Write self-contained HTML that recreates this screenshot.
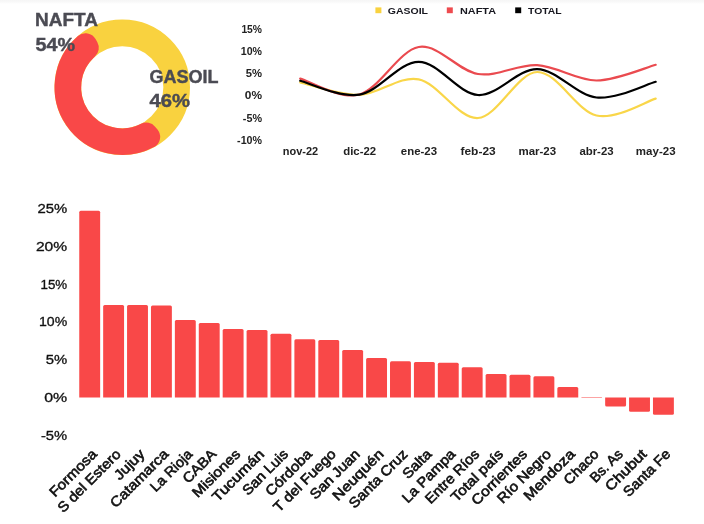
<!DOCTYPE html>
<html lang="es"><head><meta charset="utf-8"><title>Combustibles</title>
<style>
html,body{margin:0;padding:0;background:#fff;}
body{width:704px;height:524px;overflow:hidden;position:relative;font-family:"Liberation Sans",sans-serif;}
svg{position:absolute;left:0;top:0;display:block}
text{font-family:"Liberation Sans",sans-serif;}
.topbar{position:absolute;left:0;top:0;width:704px;height:4px;background:linear-gradient(#f6f6f6,#f9f9f9 50%,#ffffff);}
.dl{font-weight:bold;font-size:18px;fill:#4b4b53;stroke:#4b4b53;stroke-width:0.4px;}
.lg{font-weight:bold;font-size:9.6px;fill:#16161e;}
.ly{font-weight:bold;font-size:10.5px;fill:#222;text-anchor:end;}
.lx{font-weight:bold;font-size:11px;fill:#222;text-anchor:middle;}
.by{font-size:13.4px;fill:#111;text-anchor:end;stroke:#111;stroke-width:0.32px;}
.bx{font-size:14px;fill:#111;text-anchor:end;stroke:#111;stroke-width:0.62px;}
</style></head><body>
<div class="topbar"></div>
<svg width="704" height="524" viewBox="0 0 704 524">

<circle cx="122.25" cy="87.25" r="54.42" fill="none" stroke="#f9d23f" stroke-width="26.65"/>
<path d="M148.66 136.91 A56.25 56.25 0 0 1 85.50 44.67 L87.31 47.93 A52.60 52.60 0 0 0 146.27 134.05 Z" fill="#f94848" stroke="#f94848" stroke-width="23.0" stroke-linejoin="round"/>
<text class="dl" x="35" y="26.3" textLength="63" lengthAdjust="spacingAndGlyphs">NAFTA</text>
<text class="dl" x="35.5" y="51.3" textLength="39.5" lengthAdjust="spacingAndGlyphs">54%</text>
<text class="dl" x="149.5" y="82.8" textLength="69" lengthAdjust="spacingAndGlyphs">GASOIL</text>
<text class="dl" x="149.5" y="107.3" textLength="40.5" lengthAdjust="spacingAndGlyphs">46%</text>
<rect x="375.4" y="7.4" width="6" height="5.8" fill="#f9d23f"/>
<text class="lg" x="387.8" y="13.9" textLength="40.2" lengthAdjust="spacingAndGlyphs">GASOIL</text>
<rect x="446.8" y="7.4" width="6" height="5.8" fill="#ee4b4f"/>
<text class="lg" x="460" y="13.9" textLength="36.0" lengthAdjust="spacingAndGlyphs">NAFTA</text>
<rect x="515.2" y="7.4" width="6" height="5.8" fill="#000"/>
<text class="lg" x="528" y="13.9" textLength="33.6" lengthAdjust="spacingAndGlyphs">TOTAL</text>
<text class="ly" x="262" y="32.5" textLength="20.6" lengthAdjust="spacingAndGlyphs">15%</text>
<text class="ly" x="262" y="54.8" textLength="21.2" lengthAdjust="spacingAndGlyphs">10%</text>
<text class="ly" x="262" y="77.0" textLength="16.3" lengthAdjust="spacingAndGlyphs">5%</text>
<text class="ly" x="262" y="99.3" textLength="17.2" lengthAdjust="spacingAndGlyphs">0%</text>
<text class="ly" x="262" y="121.5" textLength="19.2" lengthAdjust="spacingAndGlyphs">-5%</text>
<text class="ly" x="262" y="143.8" textLength="24.9" lengthAdjust="spacingAndGlyphs">-10%</text>
<text class="lx" x="300.5" y="154.7" textLength="35.4" lengthAdjust="spacingAndGlyphs">nov-22</text>
<text class="lx" x="359.7" y="154.7" textLength="32.9" lengthAdjust="spacingAndGlyphs">dic-22</text>
<text class="lx" x="418.9" y="154.7" textLength="36.2" lengthAdjust="spacingAndGlyphs">ene-23</text>
<text class="lx" x="478.1" y="154.7" textLength="35.2" lengthAdjust="spacingAndGlyphs">feb-23</text>
<text class="lx" x="537.3" y="154.7" textLength="37.7" lengthAdjust="spacingAndGlyphs">mar-23</text>
<text class="lx" x="596.5" y="154.7" textLength="34.2" lengthAdjust="spacingAndGlyphs">abr-23</text>
<text class="lx" x="655.7" y="154.7" textLength="39.7" lengthAdjust="spacingAndGlyphs">may-23</text>
<path d="M300.20 82.30 C310.07 84.40 339.70 95.40 359.45 94.90 C379.20 94.40 398.95 75.45 418.70 79.30 C438.45 83.15 458.20 119.22 477.95 118.00 C497.70 116.78 517.45 72.42 537.20 72.00 C556.95 71.58 576.70 111.07 596.45 115.50 C616.20 119.93 645.83 101.42 655.70 98.60" fill="none" stroke="#f9d649" stroke-width="2.2" stroke-linecap="round" stroke-linejoin="round"/>
<path d="M300.20 78.60 C310.07 81.25 339.70 99.77 359.45 94.50 C379.20 89.23 398.95 50.42 418.70 47.00 C438.45 43.58 458.20 70.97 477.95 74.00 C497.70 77.03 517.45 64.12 537.20 65.20 C556.95 66.28 576.70 80.57 596.45 80.50 C616.20 80.43 645.83 67.42 655.70 64.80" fill="none" stroke="#ea4a4f" stroke-width="2.2" stroke-linecap="round" stroke-linejoin="round"/>
<path d="M300.20 80.80 C310.07 83.12 339.70 97.87 359.45 94.70 C379.20 91.53 398.95 61.75 418.70 61.80 C438.45 61.85 458.20 93.78 477.95 95.00 C497.70 96.22 517.45 68.68 537.20 69.10 C556.95 69.52 576.70 95.38 596.45 97.50 C616.20 99.62 645.83 84.42 655.70 81.80" fill="none" stroke="#000" stroke-width="2.2" stroke-linecap="round" stroke-linejoin="round"/>
<text class="by" x="67.2" y="213.1" textLength="29.8" lengthAdjust="spacingAndGlyphs">25%</text>
<text class="by" x="67.2" y="250.9" textLength="31.3" lengthAdjust="spacingAndGlyphs">20%</text>
<text class="by" x="67.2" y="288.7" textLength="26.7" lengthAdjust="spacingAndGlyphs">15%</text>
<text class="by" x="67.2" y="326.4" textLength="28.2" lengthAdjust="spacingAndGlyphs">10%</text>
<text class="by" x="67.2" y="364.2" textLength="21.5" lengthAdjust="spacingAndGlyphs">5%</text>
<text class="by" x="67.2" y="402.0" textLength="23.0" lengthAdjust="spacingAndGlyphs">0%</text>
<text class="by" x="67.2" y="439.8" textLength="26.3" lengthAdjust="spacingAndGlyphs">-5%</text>
<path d="M79.25 397.5 V212.25 Q79.25 210.75 80.75 210.75 H98.65 Q100.15 210.75 100.15 212.25 V397.5 Z" fill="#f94848"/>
<text class="bx" transform="translate(97.70 455) rotate(-45)" textLength="60.5" lengthAdjust="spacingAndGlyphs">Formosa</text>
<path d="M103.16 397.5 V306.50 Q103.16 305.00 104.66 305.00 H122.56 Q124.06 305.00 124.06 306.50 V397.5 Z" fill="#f94848"/>
<text class="bx" transform="translate(121.61 455) rotate(-45)" textLength="82.5" lengthAdjust="spacingAndGlyphs">S del Estero</text>
<path d="M127.06 397.5 V306.50 Q127.06 305.00 128.56 305.00 H146.46 Q147.96 305.00 147.96 306.50 V397.5 Z" fill="#f94848"/>
<text class="bx" transform="translate(145.51 455) rotate(-45)" textLength="36.4" lengthAdjust="spacingAndGlyphs">Jujuy</text>
<path d="M150.97 397.5 V307.00 Q150.97 305.50 152.47 305.50 H170.37 Q171.87 305.50 171.87 307.00 V397.5 Z" fill="#f94848"/>
<text class="bx" transform="translate(169.41 455) rotate(-45)" textLength="75.8" lengthAdjust="spacingAndGlyphs">Catamarca</text>
<path d="M174.87 397.5 V321.50 Q174.87 320.00 176.37 320.00 H194.27 Q195.77 320.00 195.77 321.50 V397.5 Z" fill="#f94848"/>
<text class="bx" transform="translate(193.32 455) rotate(-45)" textLength="53.2" lengthAdjust="spacingAndGlyphs">La Rioja</text>
<path d="M198.78 397.5 V324.50 Q198.78 323.00 200.28 323.00 H218.18 Q219.68 323.00 219.68 324.50 V397.5 Z" fill="#f94848"/>
<text class="bx" transform="translate(217.22 455) rotate(-45)" textLength="41.1" lengthAdjust="spacingAndGlyphs">CABA</text>
<path d="M222.68 397.5 V330.50 Q222.68 329.00 224.18 329.00 H242.08 Q243.58 329.00 243.58 330.50 V397.5 Z" fill="#f94848"/>
<text class="bx" transform="translate(241.13 455) rotate(-45)" textLength="61.2" lengthAdjust="spacingAndGlyphs">Misiones</text>
<path d="M246.59 397.5 V331.50 Q246.59 330.00 248.09 330.00 H265.99 Q267.49 330.00 267.49 331.50 V397.5 Z" fill="#f94848"/>
<text class="bx" transform="translate(265.04 455) rotate(-45)" textLength="67" lengthAdjust="spacingAndGlyphs">Tucumán</text>
<path d="M270.49 397.5 V335.25 Q270.49 333.75 271.99 333.75 H289.89 Q291.39 333.75 291.39 335.25 V397.5 Z" fill="#f94848"/>
<text class="bx" transform="translate(288.94 455) rotate(-45)" textLength="58" lengthAdjust="spacingAndGlyphs">San Luis</text>
<path d="M294.39 397.5 V340.75 Q294.39 339.25 295.89 339.25 H313.79 Q315.29 339.25 315.29 340.75 V397.5 Z" fill="#f94848"/>
<text class="bx" transform="translate(312.84 455) rotate(-45)" textLength="59" lengthAdjust="spacingAndGlyphs">Córdoba</text>
<path d="M318.30 397.5 V341.50 Q318.30 340.00 319.80 340.00 H337.70 Q339.20 340.00 339.20 341.50 V397.5 Z" fill="#f94848"/>
<text class="bx" transform="translate(336.75 455) rotate(-45)" textLength="81.5" lengthAdjust="spacingAndGlyphs">T del Fuego</text>
<path d="M342.21 397.5 V351.50 Q342.21 350.00 343.71 350.00 H361.61 Q363.11 350.00 363.11 351.50 V397.5 Z" fill="#f94848"/>
<text class="bx" transform="translate(360.66 455) rotate(-45)" textLength="63.8" lengthAdjust="spacingAndGlyphs">San Juan</text>
<path d="M366.11 397.5 V359.50 Q366.11 358.00 367.61 358.00 H385.51 Q387.01 358.00 387.01 359.50 V397.5 Z" fill="#f94848"/>
<text class="bx" transform="translate(384.56 455) rotate(-45)" textLength="65.7" lengthAdjust="spacingAndGlyphs">Neuquén</text>
<path d="M390.01 397.5 V362.75 Q390.01 361.25 391.51 361.25 H409.41 Q410.91 361.25 410.91 362.75 V397.5 Z" fill="#f94848"/>
<text class="bx" transform="translate(408.46 455) rotate(-45)" textLength="76.3" lengthAdjust="spacingAndGlyphs">Santa Cruz</text>
<path d="M413.92 397.5 V363.50 Q413.92 362.00 415.42 362.00 H433.32 Q434.82 362.00 434.82 363.50 V397.5 Z" fill="#f94848"/>
<text class="bx" transform="translate(432.37 455) rotate(-45)" textLength="34.6" lengthAdjust="spacingAndGlyphs">Salta</text>
<path d="M437.83 397.5 V364.25 Q437.83 362.75 439.33 362.75 H457.23 Q458.73 362.75 458.73 364.25 V397.5 Z" fill="#f94848"/>
<text class="bx" transform="translate(456.28 455) rotate(-45)" textLength="68.8" lengthAdjust="spacingAndGlyphs">La Pampa</text>
<path d="M461.73 397.5 V368.75 Q461.73 367.25 463.23 367.25 H481.13 Q482.63 367.25 482.63 368.75 V397.5 Z" fill="#f94848"/>
<text class="bx" transform="translate(480.18 455) rotate(-45)" textLength="70" lengthAdjust="spacingAndGlyphs">Entre Ríos</text>
<path d="M485.63 397.5 V375.50 Q485.63 374.00 487.13 374.00 H505.03 Q506.53 374.00 506.53 375.50 V397.5 Z" fill="#f94848"/>
<text class="bx" transform="translate(504.08 455) rotate(-45)" textLength="67.4" lengthAdjust="spacingAndGlyphs">Total país</text>
<path d="M509.54 397.5 V376.25 Q509.54 374.75 511.04 374.75 H528.94 Q530.44 374.75 530.44 376.25 V397.5 Z" fill="#f94848"/>
<text class="bx" transform="translate(527.99 455) rotate(-45)" textLength="72.1" lengthAdjust="spacingAndGlyphs">Corrientes</text>
<path d="M533.45 397.5 V377.75 Q533.45 376.25 534.95 376.25 H552.85 Q554.35 376.25 554.35 377.75 V397.5 Z" fill="#f94848"/>
<text class="bx" transform="translate(551.90 455) rotate(-45)" textLength="69.5" lengthAdjust="spacingAndGlyphs">Río Negro</text>
<path d="M557.35 397.5 V388.50 Q557.35 387.00 558.85 387.00 H576.75 Q578.25 387.00 578.25 388.50 V397.5 Z" fill="#f94848"/>
<text class="bx" transform="translate(575.80 455) rotate(-45)" textLength="65.8" lengthAdjust="spacingAndGlyphs">Mendoza</text>
<path d="M581.25 397.5 V397.50 Q581.25 397.00 581.75 397.00 H601.65 Q602.15 397.00 602.15 397.50 V397.5 Z" fill="#f94848"/>
<text class="bx" transform="translate(599.71 455) rotate(-45)" textLength="43" lengthAdjust="spacingAndGlyphs">Chaco</text>
<path d="M605.16 397.5 V405.00 Q605.16 406.50 606.66 406.50 H624.56 Q626.06 406.50 626.06 405.00 V397.5 Z" fill="#f94848"/>
<text class="bx" transform="translate(623.61 455) rotate(-45)" textLength="39.8" lengthAdjust="spacingAndGlyphs">Bs. As</text>
<path d="M629.07 397.5 V410.25 Q629.07 411.75 630.57 411.75 H648.47 Q649.97 411.75 649.97 410.25 V397.5 Z" fill="#f94848"/>
<text class="bx" transform="translate(647.52 455) rotate(-45)" textLength="52" lengthAdjust="spacingAndGlyphs">Chubut</text>
<path d="M652.97 397.5 V413.25 Q652.97 414.75 654.47 414.75 H672.37 Q673.87 414.75 673.87 413.25 V397.5 Z" fill="#f94848"/>
<text class="bx" transform="translate(671.42 455) rotate(-45)" textLength="60.2" lengthAdjust="spacingAndGlyphs">Santa Fe</text>
</svg></body></html>
